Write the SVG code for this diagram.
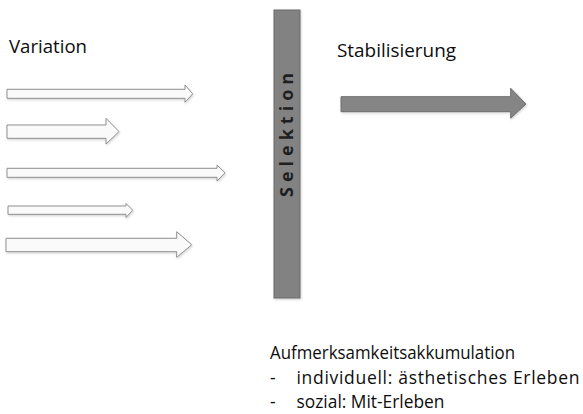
<svg xmlns="http://www.w3.org/2000/svg" width="583" height="414" viewBox="0 0 583 414">
  <defs>
    <style>
      .lbl { font-family: "Open Sans", "Liberation Sans", sans-serif; fill: #0d0d0d; }
      .white { fill: #fafafa; stroke: #8f8f8f; stroke-width: 1; stroke-linejoin: miter; }
      .gray { fill: #858585; stroke: #6e6e6e; stroke-width: 1; }
      .sel { font-family: "Open Sans", "Liberation Sans", sans-serif; font-weight: bold; font-size: 18px; letter-spacing: 5px; fill: #1f1f1f; }
    </style>
    <filter id="sh" x="-10%" y="-20%" width="120%" height="160%">
      <feDropShadow dx="0.8" dy="1.2" stdDeviation="0.8" flood-color="#000" flood-opacity="0.18"/>
    </filter>
  </defs>
  <rect width="583" height="414" fill="#ffffff"/>

  <g id="variation-label">
    <text class="lbl" x="9" y="53" font-size="18" textLength="78" lengthAdjust="spacingAndGlyphs">Variation</text>
  </g>
  <g id="stabilisierung-label">
    <text class="lbl" x="337" y="56.5" font-size="18" textLength="119" lengthAdjust="spacingAndGlyphs">Stabilisierung</text>
  </g>

  <g id="connectors" filter="url(#sh)">
    <polygon class="white" points="7,89.3 185,89.3 185,85 192.7,93.8 185,102.3 185,98.3 7,98.3"/>
    <polygon class="white" points="7,125 106,125 106,118.3 119,131.6 106,144 106,138.3 7,138.3"/>
    <polygon class="white" points="7,168.3 217,168.3 217,165 225,172.8 217,181 217,177.3 7,177.3"/>
    <polygon class="white" points="8,206 126,206 126,203.5 132.7,210.2 126,217.5 126,214.3 8,214.3"/>
    <polygon class="white" points="6,238.3 176.7,238.3 176.7,231.7 191.7,244.8 176.7,257.3 176.7,251.7 6,251.7"/>
    <polygon class="gray" points="341,96.7 510.7,96.7 510.7,88.3 526,104 510.7,118.3 510.7,111.7 341,111.7"/>
  </g>

  <g id="selektion" filter="url(#sh)">
    <rect x="274" y="10" width="26" height="288" fill="#828282" stroke="#6a6a6a" stroke-width="1"/>
  </g>
  <g id="selektion-label">
    <text class="sel" transform="translate(293.3,197) rotate(-90)" x="0" y="0">Selektion</text>
  </g>

  <g id="aufmerksamkeit">
    <text class="lbl" x="270" y="359" font-size="17.5" textLength="245" lengthAdjust="spacingAndGlyphs">Aufmerksamkeitsakkumulation</text>
    <text class="lbl" x="270" y="384" font-size="17.5">-</text>
    <text class="lbl" x="296.5" y="384" font-size="17.5" textLength="283" lengthAdjust="spacing">individuell: ästhetisches Erleben</text>
    <text class="lbl" x="270" y="408" font-size="17.5">-</text>
    <text class="lbl" x="296.5" y="408" font-size="17.5" textLength="148" lengthAdjust="spacingAndGlyphs">sozial: Mit-Erleben</text>
  </g>
</svg>
